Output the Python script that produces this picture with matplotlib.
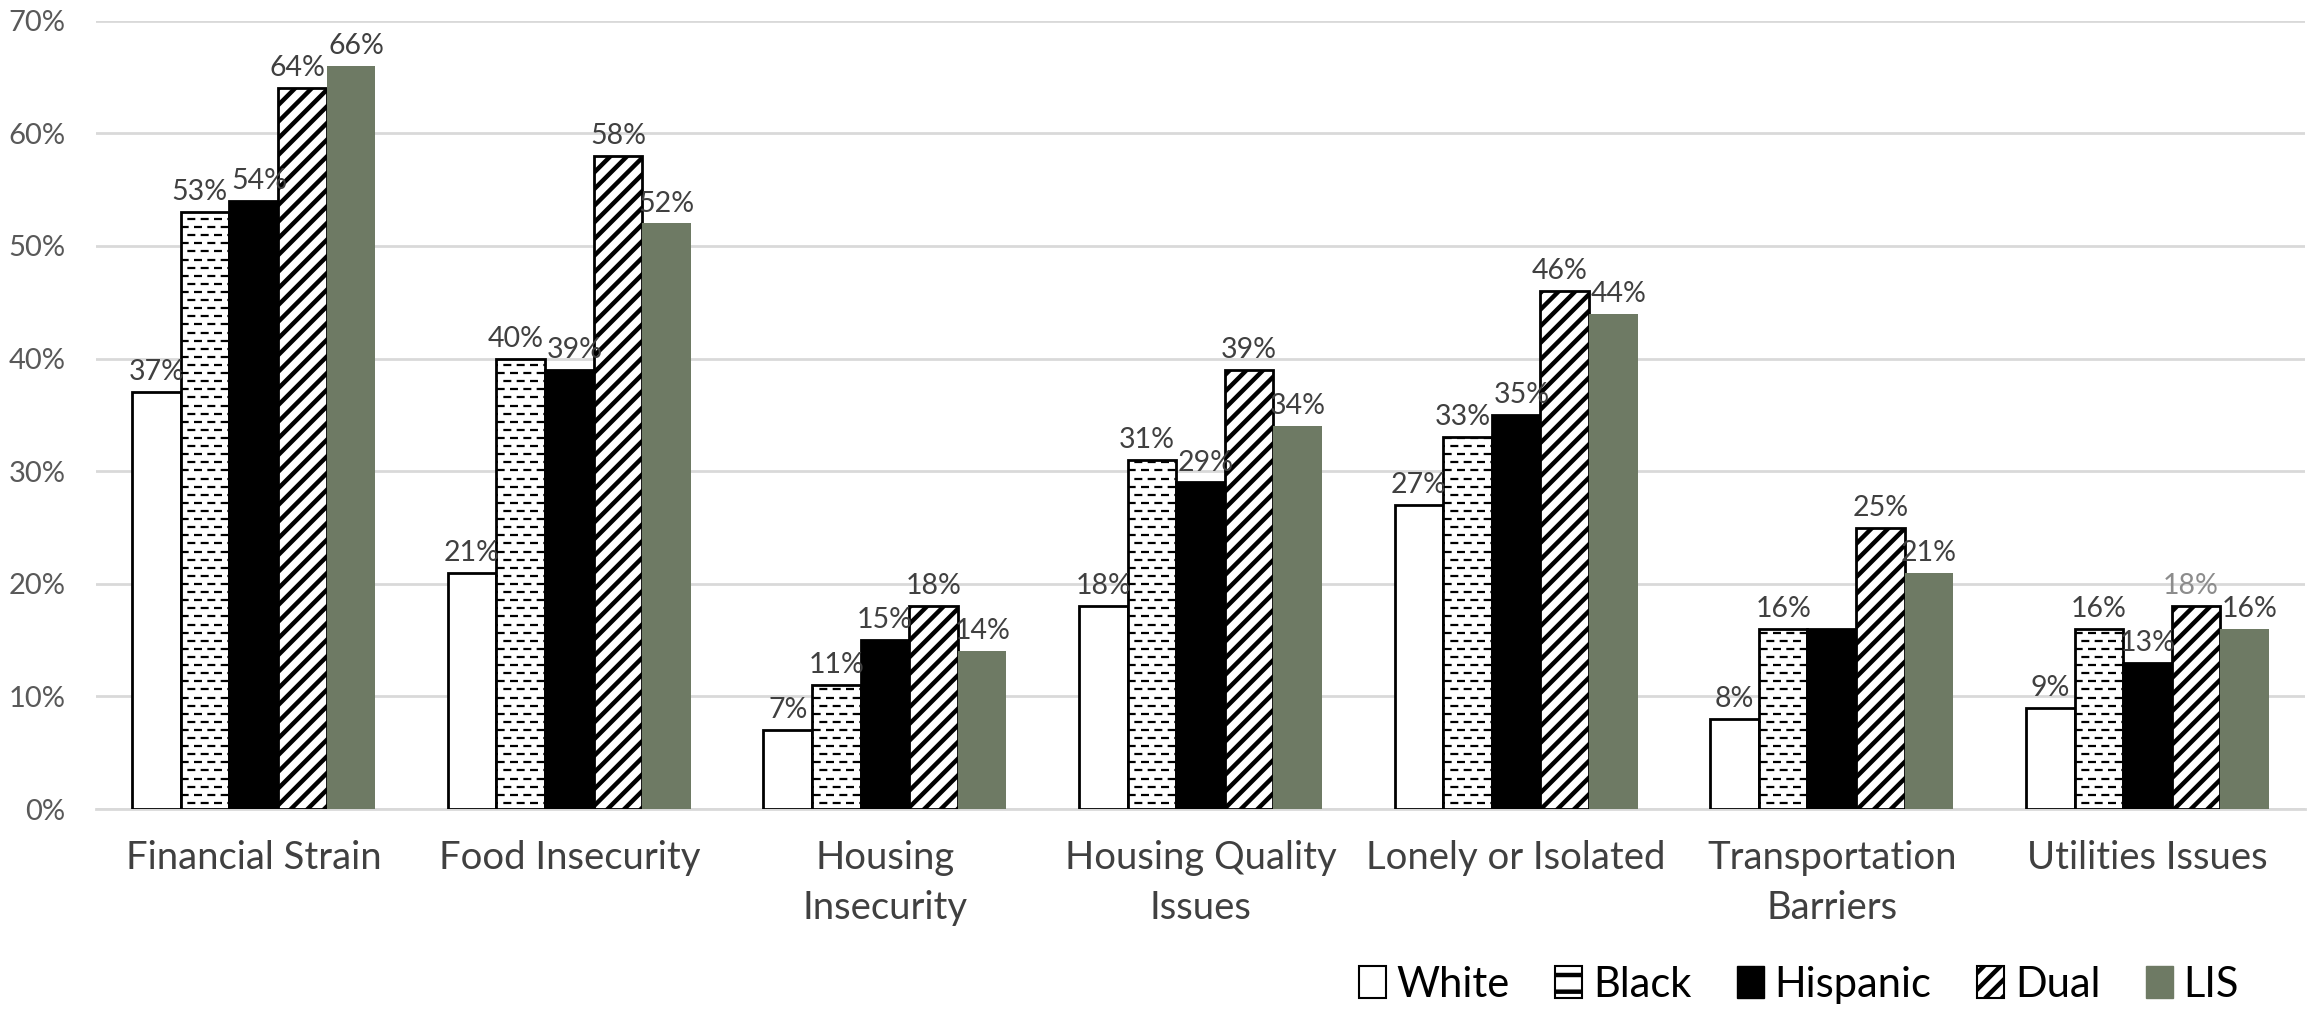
import matplotlib
matplotlib.use("Agg")
import matplotlib.pyplot as plt
import numpy as np
from matplotlib.patches import Patch

# data (percent)
categories = ["Financial Strain", "Food Insecurity", "Housing\nInsecurity",
              "Housing Quality\nIssues", "Lonely or Isolated",
              "Transportation\nBarriers", "Utilities Issues"]
groups = ["White", "Black", "Hispanic", "Dual", "LIS"]
white = [37, 21, 7, 18, 27, 8, 9]
black = [53, 40, 11, 31, 33, 16, 16]
hispanic = [54, 39, 15, 29, 35, 16, 13]
dual = [64, 58, 18, 39, 46, 25, 18]
lis = [66, 52, 14, 34, 44, 21, 16]
yticks = [0, 10, 20, 30, 40, 50, 60, 70]

plt.rcParams['font.family'] = ['Lato', 'DejaVu Sans']
plt.rcParams['hatch.linewidth'] = 3.2
LIS_COL = '#6e7a64'
TXT = '#404040'

fig = plt.figure(figsize=(23.11, 10.36), dpi=100)
ax = fig.add_axes([0.0415, 0.219, 0.956, 0.761])

x = np.arange(len(categories))
w = 0.154
series = [white, black, hispanic, dual, lis]
styles = [
    dict(color='white', edgecolor='black', linewidth=2),
    dict(color='white', edgecolor='black', linewidth=2),
    dict(color='black', edgecolor='black', linewidth=2),
    dict(color='white', edgecolor='black', linewidth=2, hatch='//'),
    dict(color=LIS_COL, edgecolor=LIS_COL, linewidth=0),
]
conts = []
for i, (vals, st) in enumerate(zip(series, styles)):
    c = ax.bar(x + (i - 2) * w, vals, w, zorder=3, **st)
    conts.append(c)

# dashed horizontal pattern for the Black bars
for bar in conts[1]:
    x0, x1 = bar.get_x(), bar.get_x() + bar.get_width()
    ys = np.arange(0.55, bar.get_height(), 0.72)
    for k, yy in enumerate(ys):
        off = 0 if k % 2 == 0 else 3.0
        ln, = ax.plot([x0 - 0.02, x1 + 0.02], [yy, yy], color='black', lw=1.6,
                      linestyle=(off, (3.6, 2.4)), zorder=4, solid_capstyle='butt')
        ln.set_clip_path(bar)

label_sets = []
for si, (c, vals) in enumerate(zip(conts, series)):
    labs = [f"{v}%" for v in vals]
    if si == 2:
        labs[5] = ""  # hidden in the original (Transportation, Hispanic)
    txts = ax.bar_label(c, labels=labs, padding=5, fontsize=20.5, color=TXT)
    label_sets.append(txts)
# the one lighter label in the original (Dual, Utilities Issues)
label_sets[3][6].set_color('#8c8c8c')

ax.set_ylim(0, 70)
ax.set_xlim(-0.5, len(categories) - 0.5)
ax.set_yticks(yticks)
ax.set_yticklabels([f"{v}%" for v in yticks], fontsize=21, color='#595959')
ax.set_xticks(x)
ax.set_xticklabels(categories, fontsize=27.5, color=TXT, linespacing=1.5)
ax.tick_params(axis='y', length=0, pad=22)
ax.tick_params(axis='x', length=0, pad=22)
ax.grid(axis='y', color='#d9d9d9', linewidth=2, zorder=0)
for s in ['left', 'right', 'top']:
    ax.spines[s].set_visible(False)
ax.spines['bottom'].set_color('#d9d9d9')
ax.spines['bottom'].set_linewidth(2)

# nudge colliding value labels sideways, like the original does
fig.canvas.draw()
r = fig.canvas.get_renderer()
inv = ax.transData.inverted()
for ci in range(len(categories)):
    row = [label_sets[s][ci] for s in range(5) if label_sets[s][ci].get_text()]
    for a, b in zip(row[:-1], row[1:]):
        ba, bb = a.get_window_extent(r), b.get_window_extent(r)
        ov = ba.x1 - bb.x0 + 3
        if ov > 0 and ba.y0 < bb.y1 and bb.y0 < ba.y1:
            d = inv.transform((ov / 2, 0))[0] - inv.transform((0, 0))[0]
            a.xy = (a.xy[0] - d, a.xy[1])
            b.xy = (b.xy[0] + d, b.xy[1])

handles = [Patch(facecolor='white', edgecolor='black', linewidth=1.5),
           Patch(facecolor='white', edgecolor='black', linewidth=1.5, hatch='-'),
           Patch(facecolor='black', edgecolor='black'),
           Patch(facecolor='white', edgecolor='black', linewidth=1.5, hatch='//'),
           Patch(facecolor=LIS_COL, edgecolor=LIS_COL)]
fig.legend(handles, groups, loc='lower right', bbox_to_anchor=(0.985, -0.005),
           ncol=5, frameon=False, handlelength=0.65, handleheight=0.8,
           handletextpad=0.25, columnspacing=1.1, labelcolor='black',
           prop={'size': 30})

fig.savefig("out.png", dpi=100)
